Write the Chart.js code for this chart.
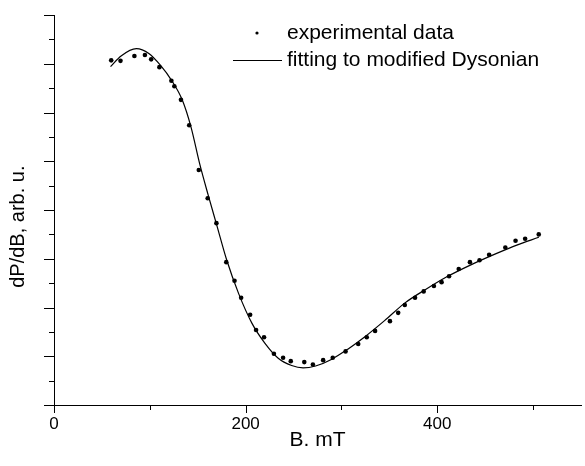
<!DOCTYPE html>
<html>
<head>
<meta charset="utf-8">
<title>dP/dB vs B</title>
<script src="https://cdn.jsdelivr.net/npm/chart.js@4.4.1/dist/chart.umd.min.js"></script>
<style>
  html, body { margin: 0; padding: 0; background: #fff; }
  #wrap { width: 585px; height: 466px; }
</style>
</head>
<body>
<div id="wrap"><canvas id="dysonChart" width="585" height="466"></canvas></div>
<script>
// experimental points, B in mT
var expB = [59.7, 69.4, 83.9, 94.9, 101.4, 110.0, 122.5, 125.6, 132.5, 141.1,
            151.1, 160.4, 169.5, 179.8, 188.4, 195.3, 204.7, 210.9, 219.2, 229.5,
            239.1, 247.1, 261.2, 270.2, 280.9, 290.9, 304.3, 317.5, 326.4, 335.1,
            350.6, 359.2, 366.1, 376.8, 385.8, 396.5, 404.5, 412.3, 422.4, 434.1,
            444.1, 454.1, 471.0, 481.7, 491.7, 505.9];
var expVal = [7.07, 7.06, 7.16, 7.18, 7.09, 6.93, 6.65, 6.54, 6.26, 5.74,
              4.82, 4.24, 3.73, 2.93, 2.55, 2.20, 1.85, 1.54, 1.39, 1.05,
              0.97, 0.90, 0.88, 0.83, 0.92, 0.97, 1.10, 1.25, 1.39, 1.52,
              1.72, 1.89, 2.05, 2.20, 2.33, 2.44, 2.52, 2.64, 2.79, 2.93,
              2.97, 3.08, 3.23, 3.37, 3.41, 3.50];

// fitted modified Dysonian curve
var fitB = [59, 70, 86, 99, 111, 123, 134, 143, 152, 161, 170, 180, 192.6, 206.5,
            220, 234, 248, 260, 273, 290, 307, 324.5, 345, 366, 387, 410, 434.5,
            462, 483, 506];
var fitVal = [6.94, 7.16, 7.31, 7.21, 6.97, 6.65, 6.25, 5.70, 4.95, 4.30, 3.68,
              2.99, 2.29, 1.68, 1.27, 0.96, 0.81, 0.76, 0.80, 0.94, 1.15, 1.40,
              1.73, 2.09, 2.36, 2.63, 2.87, 3.11, 3.28, 3.44];

var xTicks = [0, 100, 200, 300, 400, 500];
var xLabelled = [0, 200, 400];
var yTicks = [0, 0.5, 1, 1.5, 2, 2.5, 3, 3.5, 4, 4.5, 5, 5.5, 6, 6.5, 7, 7.5, 8];

var legendNames = ['experimental data', 'fitting to modified Dysonian'];

var FONT = "'Liberation Sans', Arial, sans-serif";

function toPoints(xs, ys) {
  var out = [];
  for (var i = 0; i < xs.length; i++) out.push({x: xs[i], y: ys[i]});
  return out;
}

// Origin-style ticks: long majors, short minors, pointing outward
var tickMarks = {
  id: 'tickMarks',
  afterDraw: function(chart) {
    var ctx = chart.ctx;
    var xs = chart.scales.x, ys = chart.scales.y;
    var area = chart.chartArea;
    ctx.save();
    ctx.strokeStyle = '#000';
    ctx.lineWidth = 1;
    ctx.beginPath();
    xTicks.forEach(function(v) {
      var px = Math.round(xs.getPixelForValue(v)) + 0.5;
      var len = xLabelled.indexOf(v) >= 0 ? 8 : 5;
      ctx.moveTo(px, area.bottom);
      ctx.lineTo(px, area.bottom + len);
    });
    yTicks.forEach(function(v) {
      var py = Math.round(ys.getPixelForValue(v)) + 0.5;
      var len = v % 1 === 0 ? 10 : 5;
      ctx.moveTo(area.left, py);
      ctx.lineTo(area.left - len, py);
    });
    ctx.stroke();
    ctx.restore();
  }
};

// legend sits inside the plot, top right
var insideLegend = {
  id: 'insideLegend',
  afterDraw: function(chart) {
    var ctx = chart.ctx;
    var area = chart.chartArea;
    var x0 = area.left + 179, y0 = area.top + 18, row = 27;
    ctx.save();
    ctx.fillStyle = '#000';
    ctx.strokeStyle = '#000';
    ctx.lineWidth = 1;
    ctx.beginPath();
    ctx.arc(x0 + 24, y0, 1.6, 0, Math.PI * 2);
    ctx.fill();
    ctx.beginPath();
    ctx.moveTo(x0, y0 + row + 0.5);
    ctx.lineTo(x0 + 49, y0 + row + 0.5);
    ctx.stroke();
    ctx.font = '21px ' + FONT;
    ctx.textBaseline = 'middle';
    ctx.fillText(legendNames[0], x0 + 54, y0);
    ctx.fillText(legendNames[1], x0 + 54, y0 + row);
    ctx.restore();
  }
};

var ctx = document.getElementById('dysonChart').getContext('2d');
var chart = new Chart(ctx, {
  type: 'scatter',
  data: {
    datasets: [
      {
        label: legendNames[0],
        data: toPoints(expB, expVal),
        pointRadius: 2.3,
        pointBackgroundColor: '#000',
        pointBorderWidth: 0,
        showLine: false
      },
      {
        label: legendNames[1],
        data: toPoints(fitB, fitVal),
        showLine: true,
        borderColor: '#000',
        borderWidth: 1.2,
        pointRadius: 0,
        cubicInterpolationMode: 'monotone'
      }
    ]
  },
  options: {
    responsive: false,
    animation: false,
    layout: { padding: { top: 15, right: 0, left: 0, bottom: 0 } },
    plugins: {
      legend: { display: false },
      tooltip: { enabled: false }
    },
    scales: {
      x: {
        type: 'linear',
        min: 0,
        max: 550,
        afterFit: function(s) { s.height = 61; },
        grid: { display: false, drawTicks: true, tickLength: 8 },
        border: { display: true, color: '#000', width: 1 },
        ticks: {
          stepSize: 100,
          padding: 1,
          color: '#000',
          font: { family: FONT, size: 17 },
          maxRotation: 0,
          callback: function(v) { return xLabelled.indexOf(v) >= 0 ? String(v) : ''; }
        },
        title: {
          display: true,
          text: 'B. mT',
          color: '#000',
          font: { family: FONT, size: 21 },
          padding: { top: 0, bottom: 13 }
        }
      },
      y: {
        type: 'linear',
        min: 0,
        max: 8,
        afterFit: function(s) { s.width = 54; },
        grid: { display: false },
        border: { display: true, color: '#000', width: 1 },
        ticks: { display: false, stepSize: 0.5 },
        title: {
          display: true,
          text: 'dP/dB, arb. u.      ',
          color: '#000',
          font: { family: FONT, size: 20 },
          padding: { top: 6, bottom: 0 }
        }
      }
    }
  },
  plugins: [tickMarks, insideLegend]
});
</script>
</body>
</html>
